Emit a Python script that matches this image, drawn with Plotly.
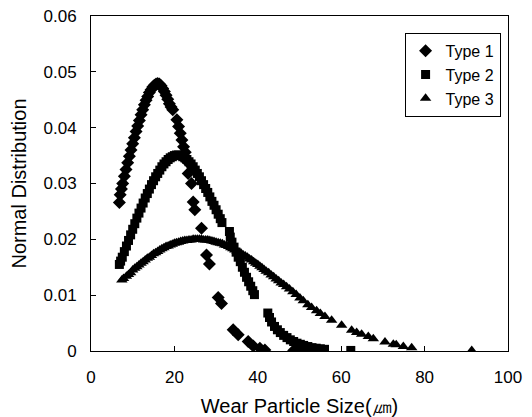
import plotly.graph_objects as go

# ---- data ----
type1_x = [6.8, 7.0, 7.3, 7.6, 8.0, 8.4, 8.8, 9.2, 9.6, 10.0, 10.4, 10.8, 11.2, 11.6,
           12.0, 12.4, 12.8, 13.2, 13.6, 14.0, 14.4, 14.8, 15.2, 15.6, 16.0, 16.4,
           16.8, 17.2, 17.6, 18.0, 18.4, 18.8, 19.2, 19.6, 20.6, 21.0, 21.4, 21.8,
           22.2, 22.6, 23.0, 23.3, 24.1, 24.5, 24.9, 26.5, 27.7, 28.4, 30.5, 31.3,
           34.1, 35.3, 37.7, 38.9, 40.5, 41.7, 48.6, 50.0, 50.8, 52.4]
type1_y = [0.0266, 0.0280, 0.0290, 0.0300, 0.0313, 0.0325, 0.0337, 0.0349, 0.0360,
           0.0371, 0.0382, 0.0393, 0.0403, 0.0413, 0.0423, 0.0432, 0.0441, 0.0449,
           0.0456, 0.0463, 0.0468, 0.0473, 0.0476, 0.0478, 0.0479, 0.0478, 0.0475,
           0.0470, 0.0465, 0.0458, 0.0451, 0.0443, 0.0437, 0.0432, 0.0414, 0.0402,
           0.0390, 0.0378, 0.0366, 0.0356, 0.0340, 0.0318, 0.0300, 0.0267, 0.0253,
           0.0220, 0.0172, 0.0156, 0.0096, 0.0085, 0.0038, 0.0029, 0.0017, 0.0009,
           0.0005, 0.0002, 0.0001, 0.0001, 0.0001, 0.0001]

type2_x = [6.8, 7.1, 7.5, 8.0, 8.5, 9.0, 9.5, 10.0, 10.5, 11.0, 11.5, 12.0, 12.5,
           13.0, 13.5, 14.0, 14.5, 15.0, 15.5, 16.0, 16.5, 17.0, 17.5, 18.0, 18.5,
           19.0, 19.5, 20.0, 20.5, 21.0, 21.5, 22.0, 22.5, 23.0, 23.5, 24.0, 24.5,
           25.0, 25.5, 26.0, 26.5, 27.0, 27.5, 28.0, 28.5, 29.0, 29.5, 30.0, 30.5,
           31.0, 31.4, 33.2, 33.4, 33.8, 34.3, 34.8, 35.3, 35.8, 36.3, 36.8, 37.3,
           37.8, 38.3, 38.8, 39.2, 42.4, 42.8, 43.3, 44.0, 44.7, 45.4, 46.2, 47.0,
           47.8, 48.6, 49.4, 50.2, 51.0, 52.0, 53.0, 54.0, 55.0, 56.0, 62.3]
type2_y = [0.0155, 0.0161, 0.0168, 0.0178, 0.0188, 0.0198, 0.0208, 0.0218, 0.0228,
           0.0238, 0.0247, 0.0256, 0.0265, 0.0274, 0.0282, 0.0290, 0.0298, 0.0305,
           0.0312, 0.0318, 0.0324, 0.0330, 0.0335, 0.0339, 0.0343, 0.0346, 0.0348,
           0.0350, 0.0351, 0.0351, 0.0350, 0.0348, 0.0346, 0.0343, 0.0339, 0.0335,
           0.0330, 0.0324, 0.0318, 0.0312, 0.0305, 0.0298, 0.0291, 0.0284, 0.0276,
           0.0268, 0.0261, 0.0253, 0.0245, 0.0237, 0.0230, 0.0214, 0.0204, 0.0195,
           0.0186, 0.0177, 0.0168, 0.0160, 0.0150, 0.0141, 0.0132, 0.0124, 0.0116,
           0.0108, 0.0101, 0.0068, 0.0060, 0.0052, 0.0044, 0.0038, 0.0033, 0.0028,
           0.0024, 0.0020, 0.0017, 0.0014, 0.0012, 0.0010, 0.0008, 0.0006, 0.0005,
           0.0004, 0.0003, 0.0001]

type3_x = [7.4, 7.8, 8.5, 9.0, 9.5, 10.0, 10.5, 11.0, 11.5, 12.0, 12.5, 13.0, 13.5,
           14.0, 14.5, 15.0, 15.5, 16.0, 16.5, 17.0, 17.5, 18.0, 18.5, 19.0, 19.5,
           20.0, 20.5, 21.0, 21.5, 22.0, 22.5, 23.0, 23.5, 24.0, 24.5, 25.0, 25.5,
           26.0, 26.5, 27.0, 27.5, 28.0, 28.5, 29.0, 29.5, 30.0, 30.5, 31.0, 31.5,
           32.0, 32.5, 33.0, 33.5, 34.0, 34.5, 35.0, 35.5, 36.0, 36.5, 37.0, 37.5,
           38.0, 38.5, 39.0, 39.5, 40.0, 40.5, 41.0, 41.5, 42.0, 42.6, 43.2, 43.8,
           44.4, 45.0, 45.6, 46.2, 46.9, 47.6, 48.4, 49.2, 50.1, 50.9, 52.0, 52.9,
           54.1, 55.0, 56.1, 57.7, 60.1, 62.5, 63.7, 64.9, 66.5, 67.7, 70.5, 72.5,
           73.2, 74.9, 76.9, 91.3]
type3_y = [0.0127, 0.0130, 0.0134, 0.0137, 0.0140, 0.0145, 0.0148, 0.0151, 0.0154,
           0.0157, 0.0160, 0.0163, 0.0166, 0.0168, 0.0171, 0.0174, 0.0176, 0.0178,
           0.0181, 0.0183, 0.0185, 0.0187, 0.0188, 0.0190, 0.0191, 0.0193, 0.0194,
           0.0195, 0.0196, 0.0197, 0.0198, 0.0198, 0.0199, 0.0199, 0.0200, 0.0200,
           0.0200, 0.0200, 0.0200, 0.0199, 0.0199, 0.0199, 0.0198, 0.0197, 0.0196,
           0.0195, 0.0194, 0.0193, 0.0192, 0.0190, 0.0189, 0.0187, 0.0185, 0.0183,
           0.0181, 0.0179, 0.0177, 0.0175, 0.0172, 0.0170, 0.0168, 0.0165, 0.0163,
           0.0160, 0.0157, 0.0155, 0.0152, 0.0149, 0.0146, 0.0143, 0.0140, 0.0136,
           0.0133, 0.0129, 0.0126, 0.0122, 0.0119, 0.0115, 0.0111, 0.0106, 0.0101,
           0.0095, 0.0090, 0.0083, 0.0078, 0.0072, 0.0067, 0.0062, 0.0055, 0.0046,
           0.0037, 0.0033, 0.0030, 0.0026, 0.0022, 0.0016, 0.0012, 0.0011, 0.0008,
           0.0006, 0.0001]

x_ticks = [0, 20, 40, 60, 80, 100]
y_ticks = [0, 0.01, 0.02, 0.03, 0.04, 0.05, 0.06]
y_ticklabels = ["0", "0.01", "0.02", "0.03", "0.04", "0.05", "0.06"]

FONT = "Arial, 'Liberation Sans', sans-serif"

fig = go.Figure()
fig.add_trace(go.Scatter(x=type1_x, y=type1_y, mode="markers", name="Type 1",
                         marker=dict(symbol="diamond", size=10, color="black")))
fig.add_trace(go.Scatter(x=type2_x, y=type2_y, mode="markers", name="Type 2",
                         marker=dict(symbol="square", size=9, color="black")))
fig.add_trace(go.Scatter(x=type3_x, y=type3_y, mode="markers", name="Type 3",
                         marker=dict(symbol="triangle-up", size=10, color="black")))

# the page body adds an 8 px margin, so the figure is 8 px smaller
fig.update_layout(
    width=524, height=409,
    margin=dict(l=83, r=24, t=8, b=66, autoexpand=False),
    paper_bgcolor="white", plot_bgcolor="white",
    font=dict(family=FONT, size=17, color="black"),
    legend=dict(x=0.752, y=0.95, xanchor="left", yanchor="top",
                bordercolor="black", borderwidth=1, bgcolor="white",
                font=dict(size=16), itemwidth=30,
                tracegroupgap=0),
    showlegend=True,
)
fig.update_xaxes(
    range=[0, 100], tickvals=x_ticks, ticktext=[str(v) for v in x_ticks],
    ticks="inside", ticklen=5, tickcolor="black", ticklabelstandoff=11,
    ticklabeloverflow="allow",
    showline=True, linecolor="black", linewidth=1, mirror=True,
    showgrid=False, zeroline=False, automargin=False,
    title=dict(text="Wear Particle Size(㎛)", standoff=16),
)
fig.update_yaxes(
    range=[0, 0.06], tickvals=y_ticks, ticktext=y_ticklabels,
    ticks="inside", ticklen=5, tickcolor="black", ticklabelstandoff=10,
    ticklabeloverflow="allow",
    showline=True, linecolor="black", linewidth=1, mirror=True,
    showgrid=False, zeroline=False, automargin=False,
    title=dict(text="Normal Distribution", standoff=12),
)

fig.write_html("out.html")
